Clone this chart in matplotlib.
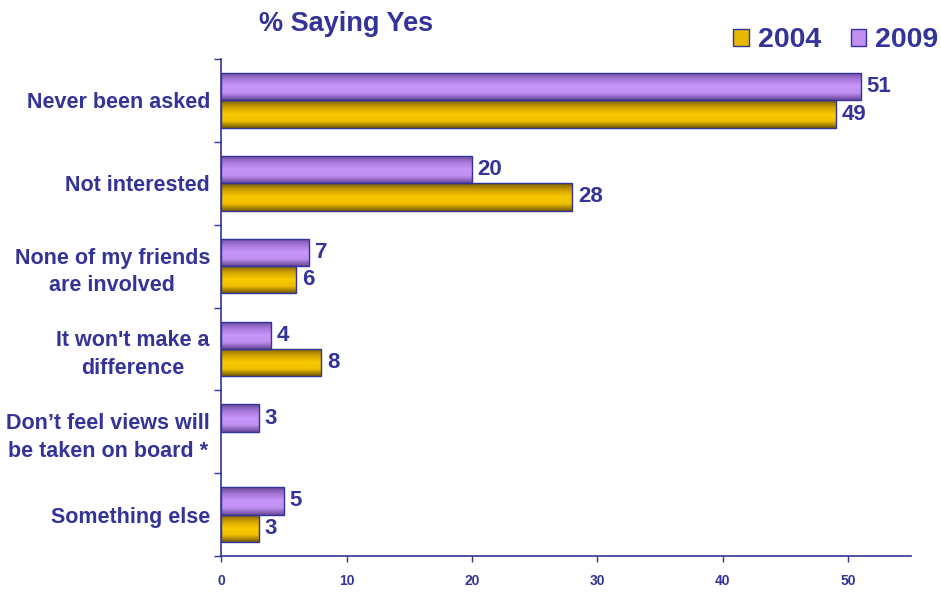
import matplotlib.pyplot as plt
import numpy as np
from matplotlib.colors import LinearSegmentedColormap
from matplotlib.patches import Patch

plt.rcParams['font.family'] = ['Liberation Sans', 'DejaVu Sans']
plt.rcParams['font.weight'] = 'bold'

navy = '#333399'

# Survey responses, top to bottom
categories = ['Never been asked', 'Not interested', 'None of my friends\nare involved',
              "It won't make a\ndifference", 'Don\u2019t feel views will\nbe taken on board *',
              'Something else']
yes_2009 = [51, 20, 7, 4, 3, 5]
yes_2004 = [49, 28, 6, 8, np.nan, 3]
xticks = [0, 10, 20, 30, 40, 50]

fig = plt.figure(figsize=(9.41, 5.92), dpi=100)
ax = fig.add_axes([0.2349, 0.0608, 0.7333, 0.8395])

y = np.arange(len(categories))
h = 0.33

purple_cm = LinearSegmentedColormap.from_list('pur', ['#6a4a9a', '#a878d8', '#c896fa', '#c090f0', '#6a4a9a'])
gold_cm = LinearSegmentedColormap.from_list('gld', ['#7a5c00', '#d0a200', '#f8c800', '#f0c000', '#7a5c00'])

b09 = ax.barh(y - h / 2, yes_2009, height=h, facecolor='none', edgecolor=navy, linewidth=1.0, zorder=3)
b04 = ax.barh(y + h / 2, yes_2004, height=h, facecolor='none', edgecolor=navy, linewidth=1.0, zorder=3)

# vertical shading inside each bar
grad = np.linspace(0, 1, 64).reshape(-1, 1)
for bars, cm in [(b09, purple_cm), (b04, gold_cm)]:
    for p in bars:
        w = p.get_width()
        if np.isnan(w):
            p.set_visible(False)
            continue
        x0, y0, hh = p.get_x(), p.get_y(), p.get_height()
        im = ax.imshow(grad, extent=[x0, x0 + w, y0 + hh, y0], aspect='auto', cmap=cm,
                       origin='upper', zorder=2, interpolation='bilinear')
        im.set_clip_path(p)

# value labels
for vals, off in [(yes_2009, -h / 2), (yes_2004, h / 2)]:
    for i, v in enumerate(vals):
        if np.isnan(v):
            continue
        ax.text(v + 0.45, i + off, f'{v:g}', va='center', ha='left',
                fontsize=16, fontweight='bold', color=navy)

ax.set_xlim(0, 55)
ax.set_ylim(len(categories) - 0.5, -0.5)

ax.set_xticks(xticks)
ax.set_xticklabels([str(t) for t in xticks], fontsize=10, fontweight='bold', color=navy)
ax.tick_params(axis='x', direction='out', length=4, color=navy, width=1, pad=9)

# category labels between boundary ticks
ax.set_yticks(np.arange(len(categories) + 1) - 0.5)
ax.set_yticklabels([])
ax.tick_params(axis='y', direction='out', length=5, color=navy, width=1)
ax.set_yticks(y, minor=True)
ax.set_yticklabels(categories, minor=True, fontsize=15.5, fontweight='bold', color=navy,
                   ha='right', multialignment='center', linespacing=1.4)
ax.tick_params(axis='y', which='minor', length=0, pad=8)

for s in ['top', 'right']:
    ax.spines[s].set_visible(False)
for s in ['left', 'bottom']:
    ax.spines[s].set_color(navy)
    ax.spines[s].set_linewidth(1.2)

fig.text(0.368, 0.96, '% Saying Yes', ha='center', va='center', fontsize=19.5,
         fontweight='bold', color=navy)

handles = [Patch(facecolor='#e8b800', edgecolor=navy, label='2004'),
           Patch(facecolor='#c090f0', edgecolor=navy, label='2009')]
fig.legend(handles=handles, loc='upper right', bbox_to_anchor=(1.024, 0.997), ncol=2,
           frameon=False, handlelength=0.55, handleheight=0.55, handletextpad=0.3,
           columnspacing=1.05, prop={'size': 20.5, 'weight': 'bold'}, labelcolor=navy)

fig.savefig('out.png', dpi=100)
